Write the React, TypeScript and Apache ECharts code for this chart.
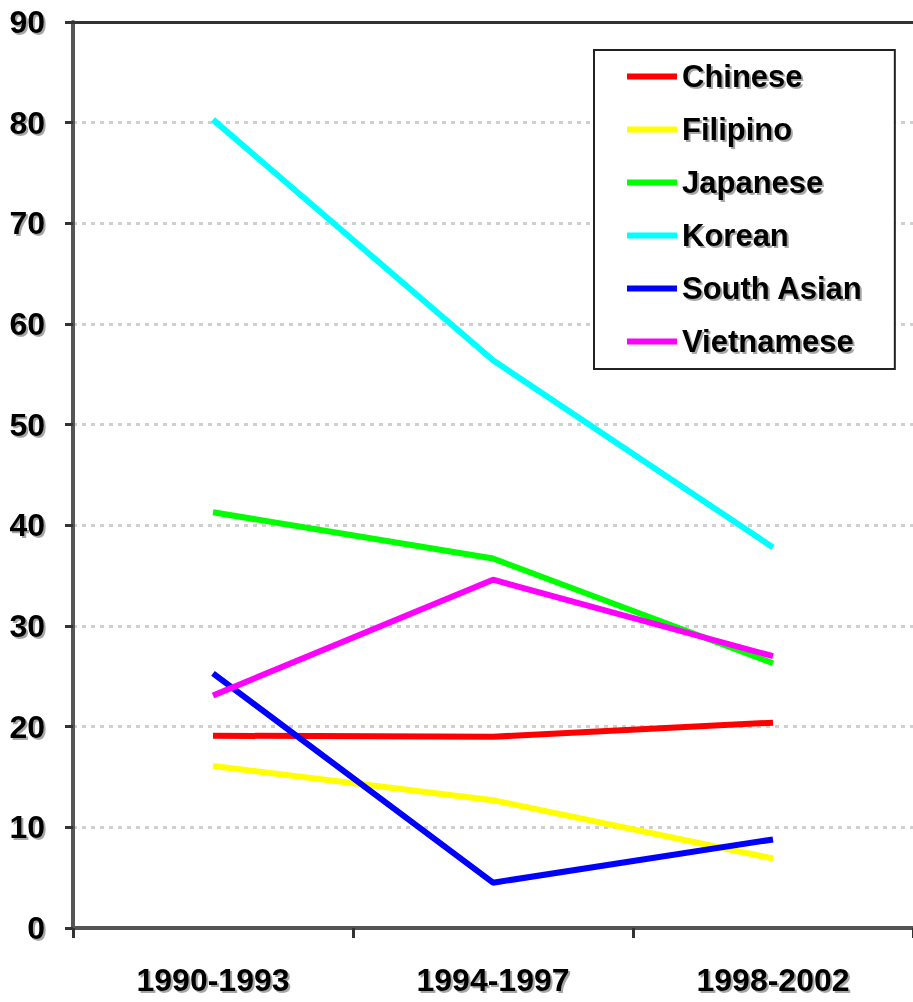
import React, { useEffect, useRef } from "react";
import * as echarts from "echarts";

const categories = ["1990-1993", "1994-1997", "1998-2002"];
const seriesNames = ["Chinese", "Filipino", "Japanese", "Korean", "South Asian", "Vietnamese"];
const chinese = [19.1, 19.0, 20.4];
const filipino = [16.1, 12.7, 6.9];
const japanese = [41.3, 36.7, 26.3];
const korean = [80.3, 56.4, 37.8];
const southAsian = [25.3, 4.5, 8.8];
const vietnamese = [23.1, 34.6, 27.0];
const seriesColors = ["#FF0000", "#FFFF00", "#00FF00", "#00FFFF", "#0000FF", "#FF00FF"];

const allValues = [chinese, filipino, japanese, korean, southAsian, vietnamese];

export default function App() {
  const ref = useRef<HTMLDivElement>(null);
  useEffect(() => {
    if (!ref.current) return;
    const chart = echarts.init(ref.current, null, { renderer: "svg" });
    const shadow = {
      textShadowColor: "rgba(0,0,0,0.35)",
      textShadowOffsetX: 2,
      textShadowOffsetY: 2,
      textShadowBlur: 1,
    };
    chart.setOption({
      animation: false,
      backgroundColor: "#ffffff",
      grid: { left: 73, right: -8, top: 22, bottom: 74, containLabel: false },
      legend: {
        show: true,
        orient: "vertical",
        left: 594,
        top: 50,
        data: seriesNames,
        icon: "rect",
        itemWidth: 50,
        itemHeight: 6,
        itemGap: 22,
        padding: [11, 32, 12, 33],
        borderColor: "#222",
        borderWidth: 2,
        backgroundColor: "#fff",
        textStyle: {
          fontFamily: "'Liberation Sans', Arial, sans-serif",
          fontWeight: "bold",
          fontSize: 31,
          lineHeight: 30,
          color: "#000",
          padding: [0, 0, 0, 0],
          ...shadow,
        },
      },
      xAxis: [
        {
          type: "category",
          data: categories,
          boundaryGap: true,
          axisLine: { show: true, lineStyle: { color: "#555", width: 4 } },
          axisTick: { show: true, inside: false, length: 10, lineStyle: { color: "#333", width: 3 } },
          axisLabel: {
            margin: 36,
            fontFamily: "'Liberation Sans', Arial, sans-serif",
            fontWeight: "bold",
            fontSize: 32,
            color: "#000",
            ...shadow,
          },
          splitLine: { show: false },
        },
        {
          type: "category",
          data: categories,
          position: "top",
          boundaryGap: true,
          axisLine: { show: true, lineStyle: { color: "#333", width: 3 } },
          axisTick: { show: false },
          axisLabel: { show: false },
          splitLine: { show: false },
        },
      ],
      yAxis: {
        type: "value",
        min: 0,
        max: 90,
        interval: 10,
        axisLine: { show: true, lineStyle: { color: "#555", width: 4 } },
        axisTick: { show: true, inside: false, length: 8, lineStyle: { color: "#333", width: 3 } },
        axisLabel: {
          margin: 28,
          fontFamily: "'Liberation Sans', Arial, sans-serif",
          fontWeight: "bold",
          fontSize: 32,
          color: "#000",
          ...shadow,
        },
        splitLine: {
          show: true,
          lineStyle: { color: "#d0d0d0", width: 3, type: [4, 5] },
        },
      },
      series: seriesNames.map((name, i) => ({
        name,
        type: "line",
        data: allValues[i],
        symbol: "none",
        showSymbol: false,
        lineStyle: { color: seriesColors[i], width: 6 },
        itemStyle: { color: seriesColors[i] },
        emphasis: { disabled: true },
      })),
    });
    return () => chart.dispose();
  }, []);
  return <div ref={ref} style={{ width: 913, height: 1002, position: "absolute", left: 0, top: 0 }} />;
}
